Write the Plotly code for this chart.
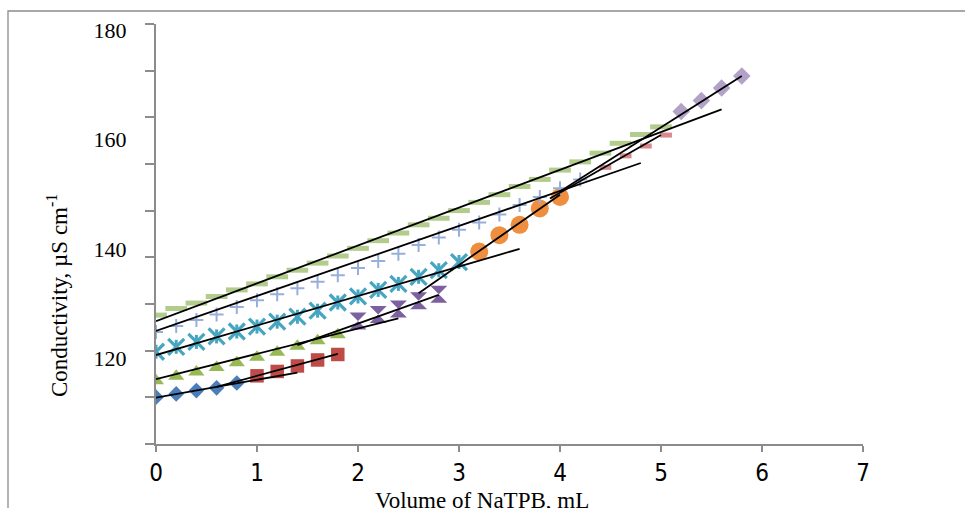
import plotly.graph_objects as go

# Conductometric titrations with NaTPB: each run is split into two series
# (before and after the end point), each with its own least-squares line.

# Volume of NaTPB added, mL
vol_blue = [0.0, 0.2, 0.4, 0.6, 0.8]
vol_red = [1.0, 1.2, 1.4, 1.6, 1.8]
vol_green = [0.0, 0.2, 0.4, 0.6, 0.8, 1.0, 1.2, 1.4, 1.6, 1.8]
vol_purple = [2.0, 2.2, 2.4, 2.6, 2.8]
vol_cyan = [0.0, 0.2, 0.4, 0.6, 0.8, 1.0, 1.2, 1.4, 1.6, 1.8, 2.0, 2.2, 2.4, 2.6, 2.8, 3.0]
vol_orange = [3.2, 3.4, 3.6, 3.8, 4.0]
vol_plus = [0.0, 0.2, 0.4, 0.6, 0.8, 1.0, 1.2, 1.4, 1.6, 1.8, 2.0,
            2.2, 2.4, 2.6, 2.8, 3.0, 3.2, 3.4, 3.6, 3.8, 4.0, 4.2]
vol_pink = [4.45, 4.65, 4.85, 5.05]
vol_lgreen = [0.0, 0.2, 0.4, 0.6, 0.8, 1.0, 1.2, 1.4, 1.6, 1.8, 2.0, 2.2, 2.4,
              2.6, 2.8, 3.0, 3.2, 3.4, 3.6, 3.8, 4.0, 4.2, 4.4, 4.6, 4.8, 5.0]
vol_lpurple = [5.2, 5.4, 5.6, 5.8]

# Conductivity, uS/cm
cond_blue = [112.9, 113.5, 114.1, 114.6, 115.5]
cond_red = [116.8, 117.6, 118.6, 119.7, 120.7]
cond_green = [115.9, 116.7, 117.5, 118.3, 119.2, 120.2, 121.1, 122.2, 123.2, 124.3]
cond_purple = [126.8, 128.0, 129.0, 130.5, 131.7]
cond_cyan = [121.2, 122.1, 123.0, 124.0, 124.9, 125.8, 126.7, 127.6, 128.7, 130.2,
             131.3, 132.5, 133.6, 134.9, 136.1, 137.6]
cond_orange = [139.5, 142.5, 144.4, 147.4, 149.5]
cond_plus = [124.8, 125.9, 127.0, 128.0, 129.4, 130.6, 131.7, 132.8, 134.0, 135.2, 136.5,
             137.8, 139.1, 140.7, 142.1, 143.5, 144.8, 146.3, 148.0, 149.5, 151.1, 152.7]
cond_pink = [154.9, 157.0, 158.8, 160.8]
cond_lgreen = [127.9, 129.1, 130.1, 131.3, 132.5, 133.6, 134.9, 136.1, 137.4, 138.7,
               140.1, 141.5, 142.9, 144.4, 145.6, 147.0, 148.5, 149.9, 151.4, 152.7,
               154.4, 155.9, 157.5, 159.3, 160.9, 162.3]
cond_lpurple = [165.1, 167.1, 169.4, 171.6]

# Fitted straight lines: [x_start, x_end], [y_start, y_end]
fit_x = {
    "blue": [0.0, 1.4], "red": [0.6, 1.8], "green": [0.0, 2.4], "purple": [1.4, 2.8],
    "cyan": [0.0, 3.6], "orange": [2.6, 4.0], "plus": [0.0, 4.8], "pink": [3.9, 5.0],
    "lgreen": [0.0, 5.6], "lpurple": [4.0, 5.8],
}
fit_y = {
    "blue": [112.8, 117.4], "red": [114.8, 120.8], "green": [116.2, 127.3],
    "purple": [122.4, 131.6], "cyan": [120.6, 140.0], "orange": [131.9, 149.9],
    "plus": [125.0, 155.7], "pink": [149.2, 160.8], "lgreen": [126.8, 165.5],
    "lpurple": [150.5, 171.6],
}

x_ticks = [0, 1, 2, 3, 4, 5, 6, 7]
y_labels = [120, 140, 160, 180]
y_range = [104.34, 181.1]
n_y_ticks = 10

AXIS = "#8c8c8c"
W, H = 965, 508
ML, MR, MT, MB = 156, 102, 24, 64
PW, PH = W - ML - MR, H - MT - MB


def px_x(px):
    return (px - ML) / PW


def px_y(py):
    return (H - MB - py) / PH


fig = go.Figure()


def markers(x, y, symbol, size, color, width=0):
    marker = dict(symbol=symbol, size=size, color=color)
    if symbol.endswith("-open"):
        marker["line"] = dict(color=color, width=width)
    else:
        marker["line"] = dict(width=0)
    fig.add_trace(go.Scatter(x=x, y=y, mode="markers", marker=marker,
                             showlegend=False, hoverinfo="x+y"))


markers(vol_blue, cond_blue, "diamond", 12, "#4A7EBB")
markers(vol_red, cond_red, "square", 13.5, "#BE4B48")
markers(vol_green, cond_green, "triangle-up", 14, "#98B954")
markers(vol_purple, cond_purple, "hourglass", 17, "#7D60A0")
markers(vol_cyan, cond_cyan, "x-thin-open", 16, "#46A5C0", 3.2)
markers(vol_cyan, cond_cyan, "line-ns-open", 10, "#46A5C0", 3)
markers(vol_orange, cond_orange, "circle", 18, "#EE8E3E")
markers(vol_plus, cond_plus, "cross-thin-open", 10, "#98AEDB", 2)
markers(vol_pink, cond_pink, "line-ew-open", 8.4, "#D9898B", 5)
markers(vol_lgreen, cond_lgreen, "line-ew-open", 15.5, "#B2CC8C", 5)
markers(vol_lpurple, cond_lpurple, "diamond", 13.5, "#B3A2C7")

for key in fit_x:
    fig.add_trace(go.Scatter(x=fit_x[key], y=fit_y[key], mode="lines",
                             line=dict(color="black", width=1.8),
                             showlegend=False, hoverinfo="skip"))

# carrier for the tick-mark axis
fig.add_trace(go.Scatter(x=[None], y=[None], yaxis="y2", showlegend=False,
                         hoverinfo="skip"))

fig.update_layout(
    width=W, height=H,
    margin=dict(l=ML, r=MR, t=MT, b=MB),
    paper_bgcolor="white", plot_bgcolor="white",
    showlegend=False,
    xaxis=dict(
        range=[0, 7], tickvals=x_ticks, ticks="outside", ticklen=6,
        tickwidth=1.5, tickcolor=AXIS, showline=True, linecolor=AXIS,
        linewidth=1.5, showgrid=False, zeroline=False,
        tickfont=dict(family="Liberation Sans Narrow, DejaVu Sans Condensed, sans-serif",
                      size=24, color="black"),
    ),
    yaxis=dict(
        range=y_range, tickvals=y_labels, ticks="outside", ticklen=24,
        tickcolor="rgba(0,0,0,0)", showline=False, showgrid=False,
        zeroline=False,
        tickfont=dict(family="Liberation Serif", size=22, color="black"),
    ),
    yaxis2=dict(
        overlaying="y", side="left", range=[0, n_y_ticks - 1],
        tickvals=list(range(n_y_ticks)), ticks="outside", ticklen=9,
        tickwidth=1.5, tickcolor=AXIS, showline=True, linecolor=AXIS,
        linewidth=1.5, showgrid=False, zeroline=False, showticklabels=False,
    ),
    shapes=[dict(type="rect", xref="paper", yref="paper",
                 x0=px_x(8), y0=px_y(560), x1=px_x(1000), y1=px_y(11),
                 line=dict(color=AXIS, width=1.3), fillcolor="rgba(0,0,0,0)",
                 layer="below")],
    annotations=[
        dict(text="Conductivity, µS cm<sup>-1</sup>", xref="paper", yref="paper",
             x=px_x(58), y=px_y(295), textangle=-90, showarrow=False,
             xanchor="center", yanchor="middle",
             font=dict(family="Liberation Serif", size=23, color="black")),
        dict(text="Volume of NaTPB, mL", xref="paper", yref="paper",
             x=px_x(482), y=px_y(500), showarrow=False,
             xanchor="center", yanchor="middle",
             font=dict(family="Liberation Serif", size=23, color="black")),
    ],
)

fig.write_html("out.html")
